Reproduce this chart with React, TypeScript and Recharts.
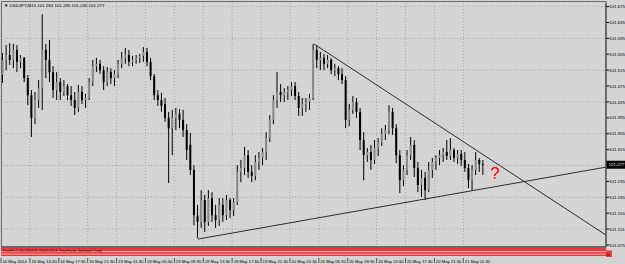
import React from "react";
import {
  ComposedChart,
  Bar,
  XAxis,
  YAxis,
  CartesianGrid,
  ReferenceLine,
  ReferenceDot,
} from "recharts";

// USDJPY M15, one candle per 30 minutes (two M15 bars)
const opens = [
  101.503, 101.541, 101.553, 101.541, 101.566, 101.536, 101.546, 101.495, 101.452, 101.395,
  101.44, 101.47, 101.566, 101.541, 101.51, 101.465, 101.485, 101.46, 101.475, 101.452,
  101.44, 101.42, 101.46, 101.44, 101.445, 101.485, 101.525, 101.531, 101.515, 101.485,
  101.51, 101.495, 101.505, 101.531, 101.546, 101.553, 101.536, 101.541, 101.546, 101.551,
  101.561, 101.536, 101.5, 101.452, 101.44, 101.43, 101.395, 101.369, 101.395, 101.405,
  101.39, 101.364, 101.327, 101.264, 101.15, 101.133, 101.188, 101.133, 101.193, 101.15,
  101.138, 101.176, 101.15, 101.188, 101.163, 101.183, 101.259, 101.269, 101.301, 101.259,
  101.249, 101.284, 101.294, 101.309, 101.344, 101.39, 101.44, 101.46, 101.452, 101.46,
  101.465, 101.475, 101.45, 101.42, 101.43, 101.435, 101.445, 101.566, 101.541, 101.546,
  101.531, 101.541, 101.515, 101.52, 101.505, 101.49, 101.39, 101.415, 101.435, 101.41,
  101.339, 101.301, 101.309, 101.289, 101.319, 101.334, 101.354, 101.364, 101.41, 101.369,
  101.301, 101.238, 101.264, 101.301, 101.327, 101.269, 101.226, 101.244, 101.213, 101.264,
  101.284, 101.294, 101.301, 101.309, 101.299, 101.314, 101.294, 101.304, 101.289, 101.269,
  101.238, 101.264, 101.289, 101.279,
];
const highs = [
  101.558, 101.578, 101.583, 101.581, 101.578, 101.553, 101.548, 101.503, 101.465, 101.46,
  101.49, 101.656, 101.581, 101.591, 101.525, 101.51, 101.495, 101.49, 101.48, 101.475,
  101.46, 101.478, 101.475, 101.455, 101.495, 101.541, 101.546, 101.541, 101.525, 101.523,
  101.52, 101.515, 101.541, 101.561, 101.571, 101.566, 101.551, 101.553, 101.556, 101.573,
  101.571, 101.546, 101.505, 101.465, 101.458, 101.445, 101.41, 101.415, 101.42, 101.417,
  101.415, 101.379, 101.357, 101.276, 101.176, 101.213, 101.201, 101.213, 101.208, 101.176,
  101.193, 101.193, 101.201, 101.193, 101.193, 101.276, 101.289, 101.322, 101.314, 101.276,
  101.301, 101.309, 101.319, 101.359, 101.402, 101.452, 101.51, 101.48, 101.47, 101.475,
  101.485, 101.485, 101.46, 101.445, 101.445, 101.455, 101.581, 101.576, 101.561, 101.556,
  101.553, 101.546, 101.531, 101.525, 101.52, 101.5, 101.43, 101.45, 101.445, 101.42,
  101.359, 101.319, 101.327, 101.339, 101.344, 101.369, 101.377, 101.427, 101.42, 101.379,
  101.314, 101.276, 101.314, 101.347, 101.339, 101.284, 101.264, 101.259, 101.284, 101.294,
  101.301, 101.314, 101.319, 101.339, 101.344, 101.319, 101.314, 101.314, 101.309, 101.279,
  101.276, 101.309, 101.294, 101.289,
];
const lows = [
  101.483, 101.515, 101.528, 101.52, 101.51, 101.52, 101.485, 101.427, 101.347, 101.379,
  101.42, 101.415, 101.495, 101.485, 101.445, 101.44, 101.44, 101.45, 101.44, 101.425,
  101.402, 101.41, 101.43, 101.42, 101.44, 101.475, 101.51, 101.505, 101.465, 101.475,
  101.48, 101.475, 101.495, 101.52, 101.531, 101.525, 101.525, 101.531, 101.533, 101.536,
  101.525, 101.49, 101.44, 101.425, 101.41, 101.385, 101.231, 101.301, 101.364, 101.369,
  101.347, 101.289, 101.251, 101.125, 101.092, 101.118, 101.108, 101.123, 101.133, 101.118,
  101.123, 101.133, 101.138, 101.143, 101.148, 101.176, 101.233, 101.251, 101.244, 101.233,
  101.238, 101.264, 101.276, 101.289, 101.334, 101.379, 101.42, 101.435, 101.435, 101.44,
  101.45, 101.44, 101.4, 101.4, 101.41, 101.415, 101.44, 101.52, 101.515, 101.515,
  101.52, 101.505, 101.5, 101.49, 101.48, 101.369, 101.374, 101.405, 101.395, 101.314,
  101.238, 101.284, 101.264, 101.279, 101.299, 101.324, 101.339, 101.354, 101.352, 101.281,
  101.206, 101.223, 101.251, 101.289, 101.246, 101.208, 101.196, 101.188, 101.208, 101.244,
  101.264, 101.276, 101.284, 101.289, 101.289, 101.284, 101.279, 101.274, 101.259, 101.218,
  101.213, 101.251, 101.259, 101.251,
];
const closes = [
  101.541, 101.553, 101.541, 101.566, 101.536, 101.546, 101.495, 101.452, 101.395, 101.44,
  101.47, 101.566, 101.541, 101.51, 101.465, 101.485, 101.46, 101.475, 101.452, 101.44,
  101.42, 101.46, 101.44, 101.445, 101.485, 101.525, 101.531, 101.515, 101.485, 101.51,
  101.495, 101.505, 101.531, 101.546, 101.553, 101.536, 101.541, 101.546, 101.551, 101.561,
  101.536, 101.5, 101.452, 101.44, 101.425, 101.395, 101.369, 101.395, 101.405, 101.39,
  101.364, 101.314, 101.264, 101.15, 101.133, 101.188, 101.133, 101.193, 101.15, 101.138,
  101.176, 101.15, 101.188, 101.163, 101.183, 101.259, 101.269, 101.301, 101.259, 101.249,
  101.284, 101.294, 101.309, 101.344, 101.39, 101.44, 101.46, 101.452, 101.46, 101.465,
  101.475, 101.45, 101.42, 101.43, 101.435, 101.445, 101.566, 101.541, 101.546, 101.531,
  101.541, 101.515, 101.52, 101.505, 101.49, 101.39, 101.415, 101.435, 101.41, 101.339,
  101.301, 101.309, 101.289, 101.319, 101.334, 101.354, 101.364, 101.41, 101.369, 101.301,
  101.238, 101.264, 101.301, 101.327, 101.269, 101.226, 101.244, 101.213, 101.264, 101.284,
  101.294, 101.301, 101.309, 101.299, 101.314, 101.294, 101.304, 101.289, 101.269, 101.238,
  101.264, 101.289, 101.279, 101.277,
];

const timeLabels = [
  "16 May 2014", "16 May 13:30", "16 May 17:30", "16 May 21:30", "19 May 01:30",
  "19 May 05:30", "19 May 09:30", "19 May 13:30", "19 May 17:30", "19 May 21:30",
  "20 May 01:30", "20 May 05:30", "20 May 09:30", "20 May 13:30", "20 May 17:30",
  "20 May 21:30", "21 May 01:30",
];
// one label every 16 M15 bars
const timeTicks = timeLabels.map((_, i) => i * 16);

const priceTicks = [
  101.075, 101.115, 101.155, 101.195, 101.235, 101.275, 101.315, 101.355,
  101.395, 101.435, 101.475, 101.515, 101.555, 101.595, 101.635, 101.675,
];
const gridPrices = [101.115, 101.195, 101.275, 101.355, 101.435, 101.515, 101.595, 101.675];

const header = ["101.284", "101.285", "101.245", "101.277"];
const lastPrice = 101.277;

// hand-drawn triangle (M15 bar index, price)
const upperTrend = [{ x: 173.3, y: 101.581 }, { x: 335, y: 101.1 }];
const lowerTrend = [{ x: 109.1, y: 101.09 }, { x: 335, y: 101.271 }];
const questionMark = { x: 273.5, y: 101.256 };

const candles = opens.map((o, i) => ({
  t: i * 2 + 1,
  open: o,
  high: highs[i],
  low: lows[i],
  close: closes[i],
  range: [lows[i], highs[i]],
}));

const FONT = "'Liberation Sans', Arial, sans-serif";
const BG = "#d4d4d4";

function CandleShape(props: any) {
  const { x, y, width, height, payload } = props;
  if (x == null || y == null || !payload) return null;
  const top = Math.min(y, y + height);
  const h = Math.abs(height);
  const cx = x + width / 2;
  const span = payload.high - payload.low || 1;
  const toY = (v: number) => top + ((payload.high - v) / span) * h;
  const yo = toY(payload.open);
  const yc = toY(payload.close);
  const bull = payload.close >= payload.open;
  return (
    <g>
      <line x1={cx} x2={cx} y1={top} y2={top + h} stroke="#000" strokeWidth={1} />
      <rect
        x={cx - 1}
        y={Math.min(yo, yc)}
        width={2}
        height={Math.max(Math.abs(yc - yo), 0.8)}
        fill={bull ? "#8c8c8c" : "#000"}
      />
    </g>
  );
}

function TimeTick(props: any) {
  const { x, y, index } = props;
  return (
    <g>
      <line x1={x} x2={x} y1={y + 9} y2={y + 14} stroke="#000" strokeWidth={0.6} />
      <text x={x + 1.5} y={y + 14} fontSize={4.2} fontFamily={FONT} fill="#000">
        {timeLabels[index]}
      </text>
    </g>
  );
}

function PriceTag(props: any) {
  const vb = props.viewBox;
  if (!vb) return null;
  const x = vb.x + vb.width;
  return (
    <g>
      <rect x={x} y={vb.y - 4} width={19} height={8} fill="#000" />
      <text x={x + 2.5} y={vb.y + 1.6} fontSize={4.4} fontFamily={FONT} fill="#fff">
        {lastPrice.toFixed(3)}
      </text>
    </g>
  );
}

export default function App() {
  return (
    <div style={{ position: "absolute", left: 0, top: 0, width: 625, height: 264, background: BG }}>
      <ComposedChart
        width={625}
        height={264}
        data={candles}
        margin={{ top: 3, right: 0, bottom: 0, left: 1 }}
      >
        <CartesianGrid
          stroke="#a8a8a8"
          strokeDasharray="1 2"
          horizontalValues={gridPrices}
          verticalValues={timeTicks}
        />
        <XAxis
          dataKey="t"
          type="number"
          domain={[0, 335]}
          allowDataOverflow
          ticks={timeTicks}
          interval={0}
          height={17}
          tickLine={false}
          tickSize={0}
          axisLine={{ stroke: "#000" }}
          tick={<TimeTick />}
        />
        <YAxis
          orientation="right"
          type="number"
          domain={[101.07, 101.684]}
          allowDataOverflow
          ticks={priceTicks}
          interval={0}
          width={19}
          tickSize={3}
          tickMargin={0}
          axisLine={{ stroke: "#000" }}
          tickLine={{ stroke: "#000" }}
          tick={{ fontSize: 4.4, fill: "#000", fontFamily: FONT }}
          tickFormatter={(v: number) => v.toFixed(3)}
        />
        <Bar dataKey="range" barSize={3} shape={CandleShape} isAnimationActive={false} />
        <ReferenceLine segment={upperTrend} stroke="#1a1a1a" strokeWidth={0.9} />
        <ReferenceLine segment={lowerTrend} stroke="#1a1a1a" strokeWidth={0.9} />
        <ReferenceLine y={lastPrice} stroke="none" label={PriceTag} />
        <ReferenceDot
          x={questionMark.x}
          y={questionMark.y}
          r={0}
          shape={(p: any) => (
            <text
              x={p.cx}
              y={p.cy + 6}
              textAnchor="middle"
              fontSize={17}
              fontFamily={FONT}
              fill="#ff0000"
            >
              ?
            </text>
          )}
        />
      </ComposedChart>
      <svg
        width={625}
        height={264}
        style={{ position: "absolute", left: 0, top: 0, pointerEvents: "none" }}
      >
        <rect x={1.5} y={1.5} width={604.5} height={245.5} fill="none" stroke="#6a6a6a" strokeWidth={1} />
        <text x={4} y={6.8} fontSize={4.4} fontFamily={FONT} fill="#000">
          {"\u25BC USDJPY,M15  " + header.join(" ")}
        </text>
        {/* indicator sub-window */}
        <rect x={1} y={248} width={605} height={8} fill="#e8393b" />
        <rect x={1} y={251.3} width={605} height={0.8} fill="#f6d0d0" />
        <rect x={1} y={253.7} width={605} height={0.8} fill="#f6d0d0" />
        <text x={3} y={251.6} fontSize={3.8} fontFamily={FONT} fill="#5a0000">
          FreeFx 5.14.2014 ID 2008-2014, FreeForex Software Corp
        </text>
        <rect x={606} y={250.5} width={6} height={6.5} fill="#e8393b" />
        <text x={607} y={256} fontSize={4.4} fontFamily={FONT} fill="#000">
          0
        </text>
      </svg>
    </div>
  );
}
